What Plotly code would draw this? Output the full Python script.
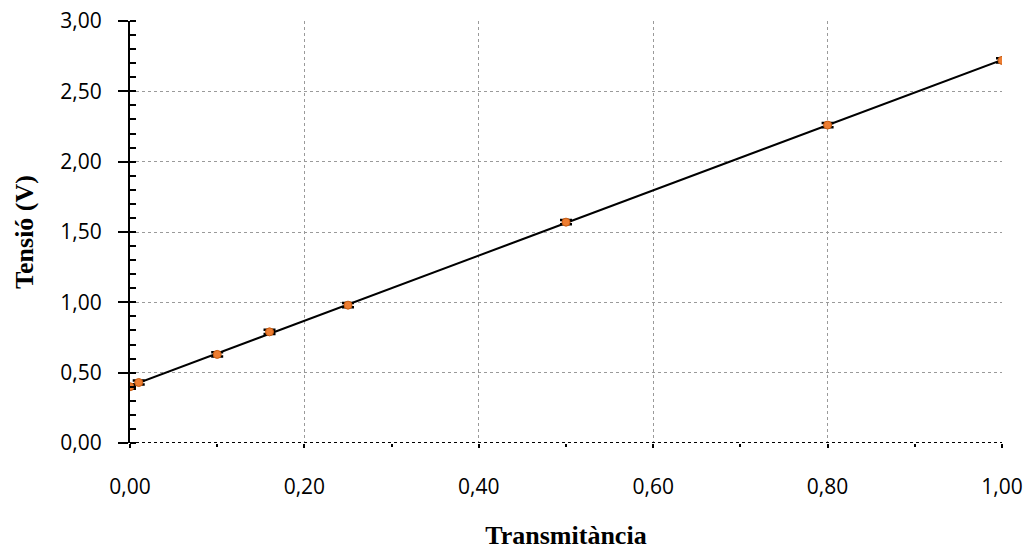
import numpy as np
import plotly.graph_objects as go

# Measured voltage vs transmittance
transmitancia = [0.00, 0.01, 0.10, 0.16, 0.25, 0.50, 0.80, 1.00]
tensio = [0.40, 0.43, 0.63, 0.79, 0.98, 1.57, 2.26, 2.72]
error_tensio = [0.015] * len(tensio)

x_ticks = [0.0, 0.2, 0.4, 0.6, 0.8, 1.0]
y_ticks = [0.0, 0.5, 1.0, 1.5, 2.0, 2.5, 3.0]

# Linear least-squares trend line
pendent, ordenada = np.polyfit(transmitancia, tensio, 1)
x_fit = [0.0, 1.0]
y_fit = [ordenada + pendent * v for v in x_fit]

fig = go.Figure()

fig.add_trace(go.Scatter(
    x=x_fit, y=y_fit, mode="lines",
    line=dict(color="black", width=2),
    hoverinfo="skip", showlegend=False,
))

fig.add_trace(go.Scatter(
    x=transmitancia, y=tensio, mode="markers",
    marker=dict(color="#ED7D31", size=8, line=dict(color="#C55A11", width=1)),
    error_y=dict(type="data", array=error_tensio, visible=True,
                 color="black", thickness=2.5, width=6),
    showlegend=False,
))

# Dotted horizontal axis line at zero
fig.add_shape(type="line", xref="paper", yref="y", x0=0, x1=1, y0=0, y1=0,
              line=dict(color="black", width=2, dash="dot"), layer="above")

tick_font = dict(family="Open Sans, Liberation Sans, sans-serif", size=21, color="black")
title_font = dict(family="Liberation Serif, Times New Roman, serif", size=26, color="black")

fig.update_layout(
    width=1031, height=550,
    margin=dict(l=130, r=29, t=21, b=107),
    paper_bgcolor="white", plot_bgcolor="white",
    separators=",.",
    xaxis=dict(
        range=[0, 1.0], tickvals=x_ticks, tickformat=".2f", automargin=False,
        showgrid=True, gridcolor="#9a9a9a", griddash="dot", gridwidth=1,
        showline=False, zeroline=False,
        ticks="outside", ticklen=4, tickwidth=2, tickcolor="black",
        minor=dict(dtick=0.1, ticks="outside", ticklen=3, tickwidth=2,
                   tickcolor="black", showgrid=False),
        tickfont=tick_font, ticklabelstandoff=21,
        title=dict(text="<b>Transmitància</b>", font=title_font, standoff=30),
    ),
    yaxis=dict(
        range=[0, 3.0], tickvals=y_ticks, tickformat=".2f", automargin=False,
        showgrid=True, gridcolor="#9a9a9a", griddash="dot", gridwidth=1,
        showline=True, linecolor="black", linewidth=2, zeroline=False,
        ticks="outside", ticklen=10, tickwidth=2, tickcolor="black",
        minor=dict(dtick=0.1, ticks="inside", ticklen=6, tickwidth=2,
                   tickcolor="black", showgrid=False),
        tickfont=tick_font, ticklabelstandoff=12,
        title=dict(text="<b>Tensió (V)</b>", font=title_font, standoff=19),
    ),
)

fig.write_html("out.html")
